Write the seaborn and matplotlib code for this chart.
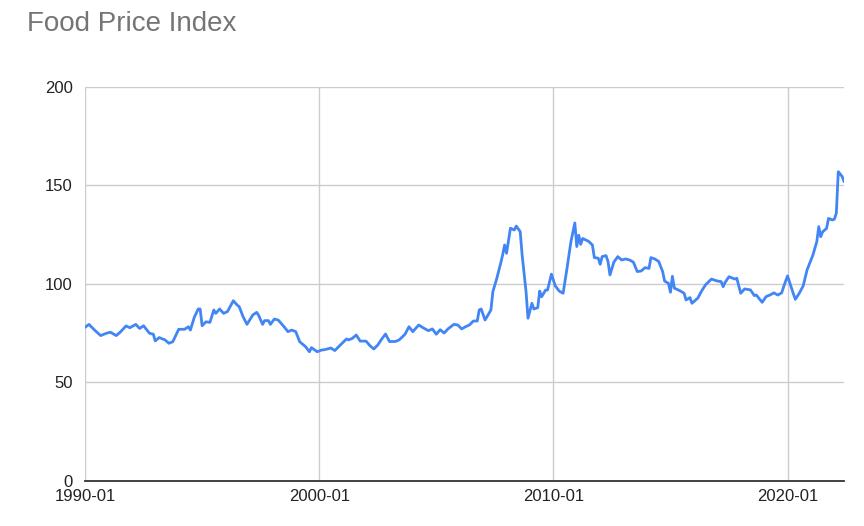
import numpy as np
import pandas as pd
import seaborn as sns
import matplotlib.pyplot as plt

# months since 1990-01
months = [0, 2, 5, 8, 11, 13, 16, 18, 21, 23, 26, 28, 30, 33, 35, 36, 38, 41, 43, 45,
          48, 51, 53, 54, 56, 58, 59, 60, 62, 64, 66, 67, 69, 71, 73, 76, 78, 79, 81, 83,
          86, 88, 89, 91, 92, 94, 95, 97, 99, 102, 104, 106, 108, 110, 113, 115, 116, 119, 121, 123,
          126, 128, 130, 134, 135, 137, 139, 141, 144, 146, 148, 150, 152, 154, 156, 159, 161, 164, 166, 168,
          171, 173, 176, 178, 180, 182, 184, 186, 189, 191, 193, 195, 197, 199, 201, 202, 203, 205, 206, 208,
          209, 211, 213, 214, 215, 216, 218, 220, 221, 223, 224, 226, 227, 229, 230, 232, 233, 234, 236, 237,
          239, 241, 243, 245, 247, 249, 251, 252, 253, 254, 255, 258, 260, 261, 263, 264, 265, 267, 268, 269,
          271, 273, 275, 277, 279, 281, 283, 285, 287, 289, 290, 292, 294, 296, 297, 299, 300, 301, 302, 305,
          307, 308, 310, 311, 314, 316, 318, 320, 321, 324, 326, 327, 328, 330, 333, 334, 336, 338, 341, 343,
          344, 346, 347, 349, 351, 353, 355, 357, 358, 360, 362, 363, 364, 366, 368, 370, 373, 375, 376, 377,
          378, 380, 381, 383, 384, 385, 386, 387, 388, 389]
index_values = [78.0, 79.5, 76.5, 73.8, 75.0, 75.5, 73.8, 75.5, 78.7, 77.8, 79.5, 77.4, 78.8, 75.0, 74.5, 71.1, 72.8, 71.6, 69.9, 70.7,
                77.0, 77.0, 78.3, 76.6, 83.1, 87.3, 87.3, 78.8, 80.8, 80.5, 86.8, 85.1, 87.3, 85.1, 86.0, 91.5, 89.3, 88.5, 83.4, 79.5,
                84.3, 85.6, 84.0, 79.5, 81.4, 81.4, 79.5, 82.2, 81.7, 78.3, 75.8, 76.6, 75.8, 70.7, 68.2, 65.6, 67.7, 65.6, 66.4, 66.7,
                67.5, 66.2, 68.2, 72.1, 71.6, 72.4, 74.1, 71.0, 71.0, 68.7, 67.0, 69.0, 72.0, 74.6, 70.8, 70.8, 71.6, 74.5, 78.3, 75.8,
                79.2, 77.9, 76.3, 77.2, 74.5, 76.8, 75.1, 77.2, 79.5, 79.2, 77.2, 78.3, 79.2, 81.2, 81.2, 86.8, 87.3, 81.7, 83.4, 86.8,
                96.1, 102.8, 110.5, 114.7, 119.8, 115.6, 128.3, 127.4, 129.4, 126.6, 114.7, 96.1, 82.6, 90.2, 87.3, 88.0, 96.4, 93.5, 96.9, 96.9,
                105.0, 99.0, 96.4, 95.3, 108.0, 121.5, 131.0, 119.0, 124.8, 120.1, 123.1, 121.7, 119.8, 113.4, 113.1, 110.0, 113.9, 114.4, 111.4, 104.6,
                111.1, 113.9, 112.2, 112.7, 112.2, 111.1, 106.3, 106.6, 108.3, 107.9, 113.4, 112.7, 111.4, 106.3, 101.5, 100.3, 95.8, 103.9, 97.9, 96.5,
                95.3, 91.9, 93.1, 90.2, 92.8, 96.5, 99.6, 101.5, 102.5, 101.5, 101.2, 98.6, 100.8, 103.7, 102.5, 102.9, 95.3, 97.5, 97.0, 94.1,
                94.4, 91.9, 90.7, 93.6, 94.4, 95.5, 94.4, 95.5, 98.6, 104.1, 98.0, 95.0, 92.2, 95.3, 99.0, 107.1, 114.7, 121.5, 129.1, 124.0,
                126.5, 128.2, 133.3, 132.5, 132.9, 135.9, 157.0, 155.8, 154.5, 151.9]
tick_months = [0, 120, 240, 360]
tick_labels = ['1990-01', '2000-01', '2010-01', '2020-01']
y_ticks = [0, 50, 100, 150, 200]

df = pd.DataFrame({'Month': months, 'Index': index_values})

sns.set_theme(style='white')
plt.rcParams['font.family'] = ['Liberation Sans', 'DejaVu Sans']

fig = plt.figure(figsize=(8.64, 5.26), dpi=100)
ax = fig.add_axes([0.0984, 0.0856, 0.8786, 0.749])
sns.lineplot(x='Month', y='Index', data=df, ax=ax, color='#4285F4', linewidth=2.0)

ax.set_xlim(0, 389)
ax.set_ylim(0, 200)
ax.set_xticks(tick_months)
ax.set_xticklabels(tick_labels)
ax.set_yticks(y_ticks)
ax.grid(True, color='#cccccc', linewidth=1.0)
ax.set_axisbelow(True)
ax.tick_params(axis='both', length=0, labelsize=12, colors='#222222')
ax.tick_params(axis='y', pad=9)
ax.tick_params(axis='x', pad=6)
ax.set_xlabel('')
ax.set_ylabel('')
for s in ['top', 'right', 'left']:
    ax.spines[s].set_visible(False)
ax.spines['bottom'].set_color('#333333')
ax.spines['bottom'].set_linewidth(1.3)

fig.text(0.031, 0.955, 'Food Price Index', fontsize=20, color='#757575', va='center', ha='left')

plt.savefig('out.png', dpi=100)
